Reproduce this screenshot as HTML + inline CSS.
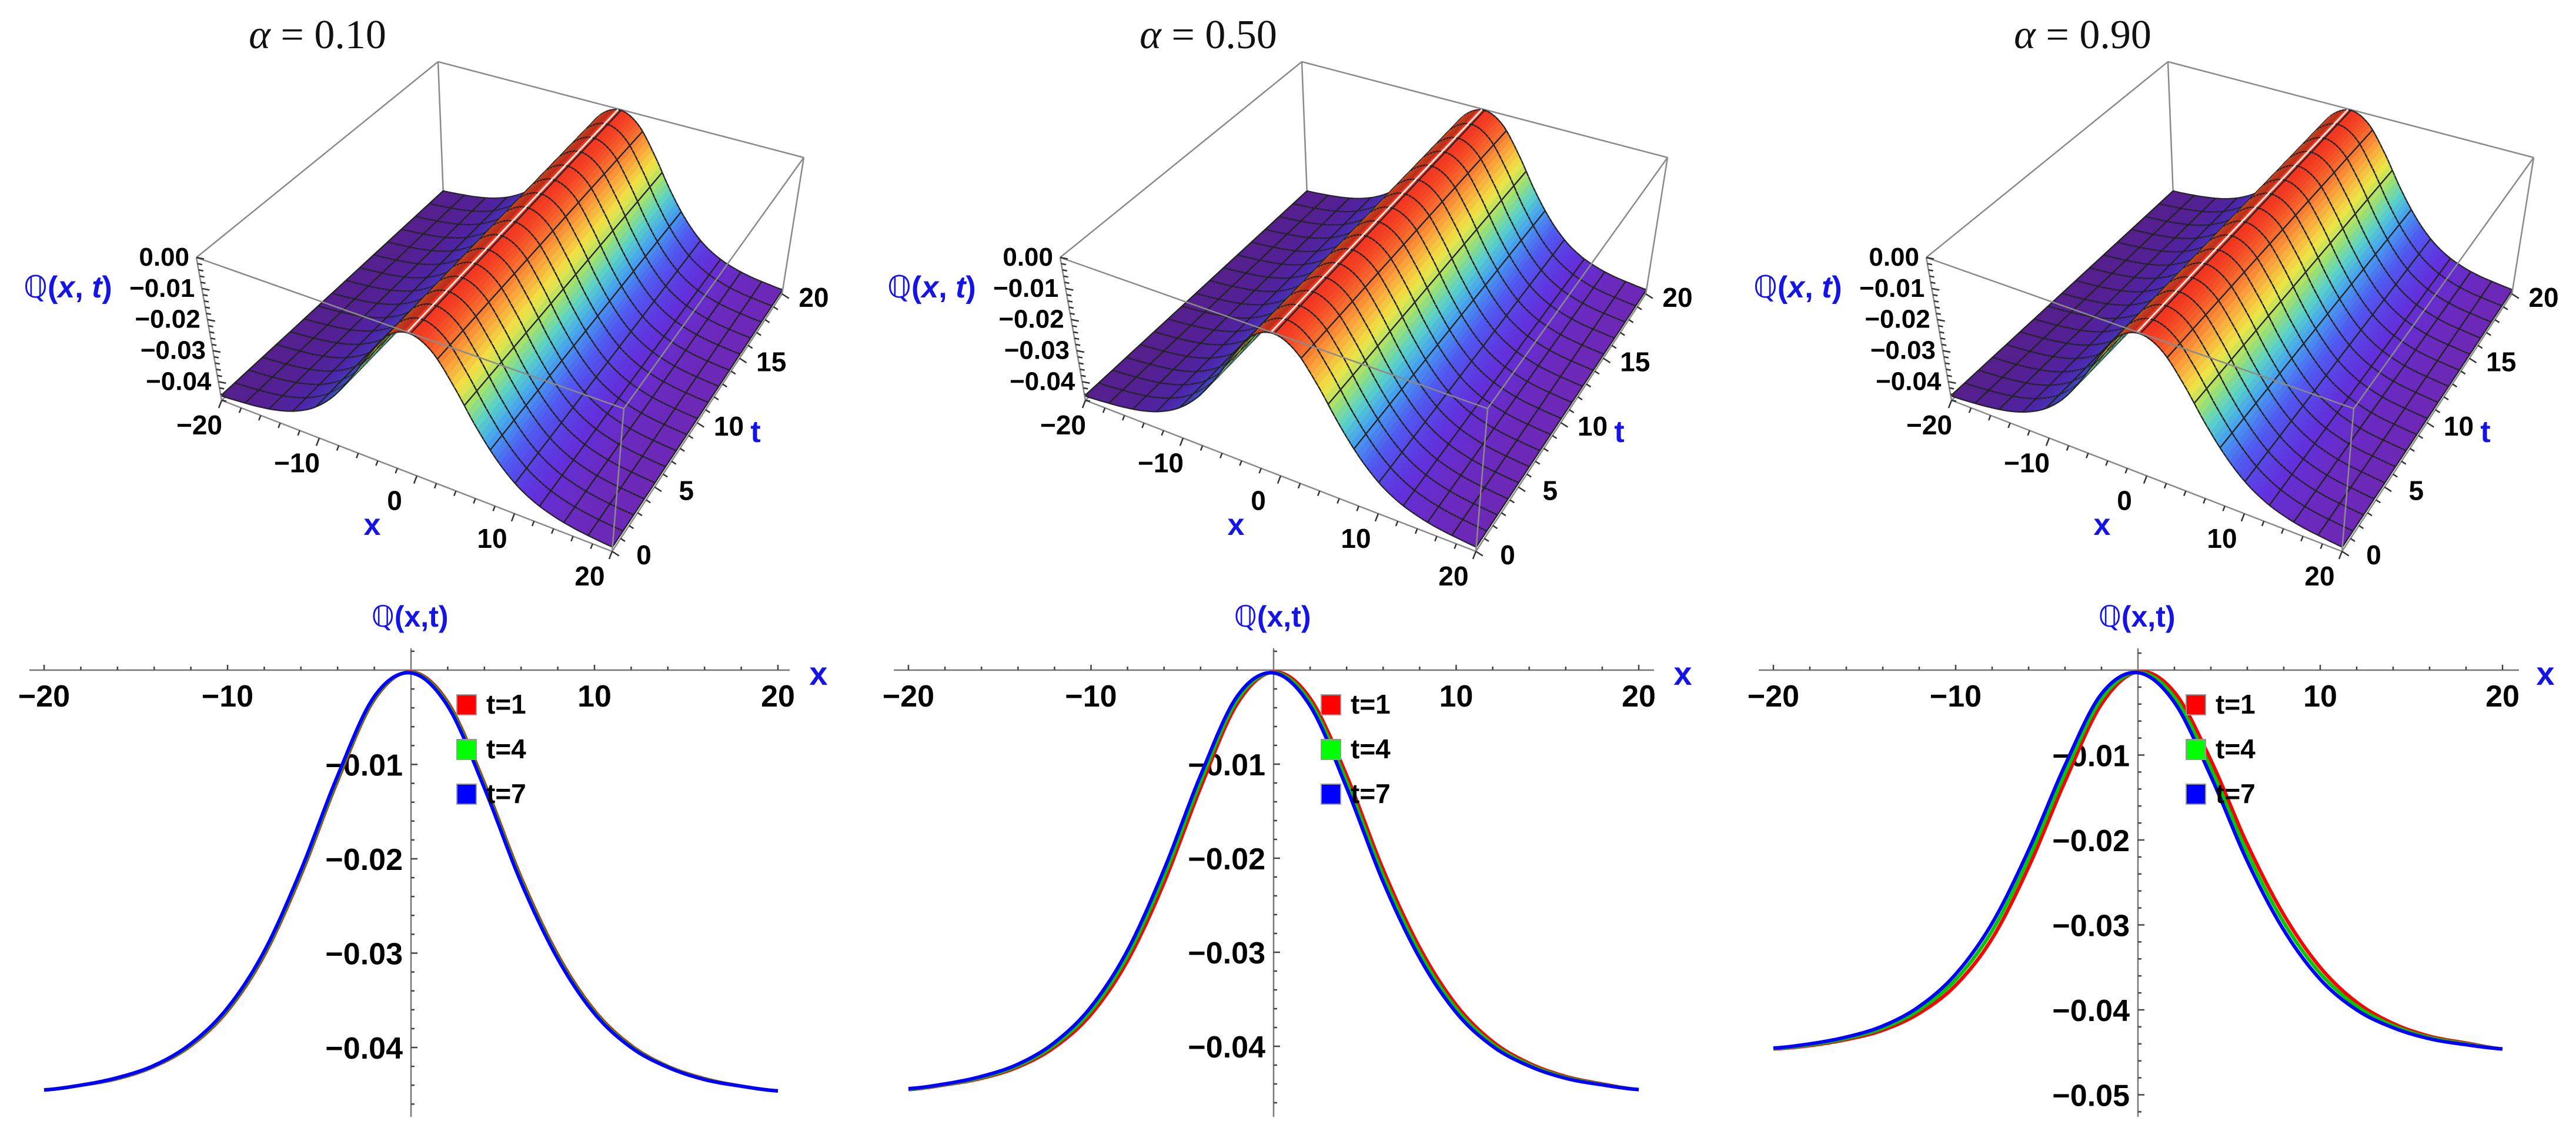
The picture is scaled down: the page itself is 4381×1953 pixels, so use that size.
<!DOCTYPE html>
<html><head><meta charset="utf-8"><title>Q(x,t) for alpha values</title>
<style>
html,body{margin:0;padding:0;background:#fff;}
svg{display:block;}
.tl{font-family:"Liberation Sans",sans-serif;font-weight:bold;fill:#000;}
.bl{font-family:"Liberation Sans","DejaVu Sans",sans-serif;font-weight:bold;fill:#1414e6;}
.ttl{font-family:"Liberation Serif",serif;fill:#111;font-size:70px;}
</style></head>
<body>
<svg id="chart" width="4381" height="1953" viewBox="0 0 4381 1953" xmlns="http://www.w3.org/2000/svg">
<rect x="0" y="0" width="4381" height="1953" fill="#fff"/>
<g id="layer3d"></g>
<g id="layer2d"></g>
<g>
<text class="ttl" x="540" y="82" text-anchor="middle"><tspan font-style="italic">α</tspan> = 0.10</text>
<text class="ttl" x="2055" y="82" text-anchor="middle"><tspan font-style="italic">α</tspan> = 0.50</text>
<text class="ttl" x="3542" y="82" text-anchor="middle"><tspan font-style="italic">α</tspan> = 0.90</text>
</g>
<g>
<text class="bl" x="40" y="506" font-size="52"><tspan font-weight="normal">ℚ</tspan>(<tspan font-style="italic">x</tspan>, <tspan font-style="italic">t</tspan>)</text>
<text class="bl" x="633" y="910" font-size="52" text-anchor="middle">x</text>
<text class="bl" x="1285" y="752" font-size="52" text-anchor="middle">t</text>
<text class="bl" x="1509" y="506" font-size="52"><tspan font-weight="normal">ℚ</tspan>(<tspan font-style="italic">x</tspan>, <tspan font-style="italic">t</tspan>)</text>
<text class="bl" x="2102" y="910" font-size="52" text-anchor="middle">x</text>
<text class="bl" x="2754" y="752" font-size="52" text-anchor="middle">t</text>
<text class="bl" x="2982" y="506" font-size="52"><tspan font-weight="normal">ℚ</tspan>(<tspan font-style="italic">x</tspan>, <tspan font-style="italic">t</tspan>)</text>
<text class="bl" x="3575" y="910" font-size="52" text-anchor="middle">x</text>
<text class="bl" x="4227" y="752" font-size="52" text-anchor="middle">t</text>
</g>
<g>
<text class="bl" x="697" y="1066" font-size="50" text-anchor="middle"><tspan font-weight="normal">ℚ</tspan>(x,t)</text>
<text class="bl" x="1392" y="1165" font-size="56" text-anchor="middle">x</text>
<text class="bl" x="2164" y="1066" font-size="50" text-anchor="middle"><tspan font-weight="normal">ℚ</tspan>(x,t)</text>
<text class="bl" x="2862" y="1165" font-size="56" text-anchor="middle">x</text>
<text class="bl" x="3634" y="1066" font-size="50" text-anchor="middle"><tspan font-weight="normal">ℚ</tspan>(x,t)</text>
<text class="bl" x="4329" y="1165" font-size="56" text-anchor="middle">x</text>
</g>
<g>
<g>
<rect x="777" y="1182" width="33" height="34" fill="#ff0000" stroke="#999" stroke-width="2"/>
<text class="tl" x="827" y="1214" font-size="46">t=1</text>
<rect x="777" y="1258" width="33" height="34" fill="#00ff00" stroke="#999" stroke-width="2"/>
<text class="tl" x="827" y="1290" font-size="46">t=4</text>
<rect x="777" y="1334" width="33" height="34" fill="#0000ff" stroke="#999" stroke-width="2"/>
<text class="tl" x="827" y="1366" font-size="46">t=7</text>
</g>
<g>
<rect x="2247" y="1182" width="33" height="34" fill="#ff0000" stroke="#999" stroke-width="2"/>
<text class="tl" x="2297" y="1214" font-size="46">t=1</text>
<rect x="2247" y="1258" width="33" height="34" fill="#00ff00" stroke="#999" stroke-width="2"/>
<text class="tl" x="2297" y="1290" font-size="46">t=4</text>
<rect x="2247" y="1334" width="33" height="34" fill="#0000ff" stroke="#999" stroke-width="2"/>
<text class="tl" x="2297" y="1366" font-size="46">t=7</text>
</g>
<g>
<rect x="3718" y="1182" width="33" height="34" fill="#ff0000" stroke="#999" stroke-width="2"/>
<text class="tl" x="3768" y="1214" font-size="46">t=1</text>
<rect x="3718" y="1258" width="33" height="34" fill="#00ff00" stroke="#999" stroke-width="2"/>
<text class="tl" x="3768" y="1290" font-size="46">t=4</text>
<rect x="3718" y="1334" width="33" height="34" fill="#0000ff" stroke="#999" stroke-width="2"/>
<text class="tl" x="3768" y="1366" font-size="46">t=7</text>
</g>
</g>
</svg>
<script>
// ---- data ----
const xs = [-20,-18,-16,-14,-12,-10,-8,-6,-4,-2,0,2,4,6,8,10,12,14,16,18,20];
const a1_t1 = [-0.0445,-0.0440,-0.0433,-0.0420,-0.0398,-0.0361,-0.0302,-0.0217,-0.0117,-0.0031,-0.0002,-0.0034,-0.0120,-0.0220,-0.0302,-0.0361,-0.0398,-0.0420,-0.0433,-0.0441,-0.0446];
const a1_t4 = [-0.0445,-0.0440,-0.04325,-0.04195,-0.0397,-0.03595,-0.0300,-0.02145,-0.01145,-0.00295,-0.00025,-0.0036,-0.01225,-0.02225,-0.0304,-0.03625,-0.0399,-0.04205,-0.04335,-0.0441,-0.0446];
const a1_t7 = [-0.0445,-0.0440,-0.0432,-0.0419,-0.0396,-0.0358,-0.0298,-0.0212,-0.0112,-0.0028,-0.0003,-0.0038,-0.0125,-0.0225,-0.0306,-0.0364,-0.0400,-0.0421,-0.0434,-0.0441,-0.0446];
const a5_t1 = [-0.0446,-0.0441,-0.0434,-0.0422,-0.0401,-0.0366,-0.0309,-0.0226,-0.0125,-0.0036,-0.0002,-0.0030,-0.0112,-0.0212,-0.0295,-0.0356,-0.0395,-0.0418,-0.0432,-0.0440,-0.0446];
const a5_t4 = [-0.04455,-0.04405,-0.0433,-0.04205,-0.03985,-0.0362,-0.03035,-0.0219,-0.01185,-0.0032,-0.00025,-0.0034,-0.01185,-0.02185,-0.03005,-0.0360,-0.03975,-0.04195,-0.0433,-0.04405,-0.0446];
const a5_t7 = [-0.0445,-0.0440,-0.0432,-0.0419,-0.0396,-0.0358,-0.0298,-0.0212,-0.0112,-0.0028,-0.0003,-0.0038,-0.0125,-0.0225,-0.0306,-0.0364,-0.0400,-0.0421,-0.0434,-0.0441,-0.0446];
const a9_t1 = [-0.0446,-0.0442,-0.0435,-0.0424,-0.0404,-0.0371,-0.0316,-0.0232,-0.0131,-0.0040,-0.0002,-0.0026,-0.0106,-0.0205,-0.0288,-0.0350,-0.0391,-0.0416,-0.0431,-0.0439,-0.0446];
const a9_t4 = [-0.04455,-0.0441,-0.04335,-0.04215,-0.0400,-0.03645,-0.0307,-0.0222,-0.01215,-0.0034,-0.00025,-0.0032,-0.01155,-0.0215,-0.0297,-0.0357,-0.03955,-0.04185,-0.04325,-0.0440,-0.0446];
const a9_t7 = [-0.0445,-0.0440,-0.0432,-0.0419,-0.0396,-0.0358,-0.0298,-0.0212,-0.0112,-0.0028,-0.0003,-0.0038,-0.0125,-0.0225,-0.0306,-0.0364,-0.0400,-0.0421,-0.0434,-0.0441,-0.0446];
const xTickLabels = [-20,-10,10,20];
const yTickLabels12 = [-0.01,-0.02,-0.03,-0.04];
const yTickLabels3 = [-0.01,-0.02,-0.03,-0.04,-0.05];
const box3dX = [-20,-10,0,10,20];
const box3dT = [0,5,10,15,20];
const box3dZ = [0,-0.01,-0.02,-0.03,-0.04];
const seriesColors = ['#ff0000','#00c800','#0000ff'];

const NS = 'http://www.w3.org/2000/svg';
function mk(tag, attrs, name, parent){
  const el = document.createElementNS(NS, tag);
  for (const k in attrs) el.setAttribute(k, attrs[k]);
  
  
  parent.appendChild(el);
  return el;
}
function interp(arr, x){
  const n = xs.length, h = xs[1]-xs[0];
  let i = Math.floor((x-xs[0])/h);
  if (i < 0) i = 0; if (i > n-2) i = n-2;
  const s = (x-xs[i])/h;
  const p0 = arr[Math.max(i-1,0)], p1 = arr[i], p2 = arr[i+1], p3 = arr[Math.min(i+2,n-1)];
  return 0.5*((2*p1)+(-p0+p2)*s+(2*p0-5*p1+4*p2-p3)*s*s+(-p0+3*p1-3*p2+p3)*s*s*s);
}
function fmt(v){ return (v<0?'−':'')+Math.abs(v).toFixed(2); }

// ---------- 2D line panels ----------
const panels2d = [
  {x0:699, xs:31.2, y0:1140, ys:16050, yb:1900, ax0:50, ax1:1343, series:[a1_t1,a1_t4,a1_t7], yt:yTickLabels12, ymin:-0.0475},
  {x0:2166, xs:31.05, y0:1140, ys:16000, yb:1900, ax0:1520, ax1:2813, series:[a5_t1,a5_t4,a5_t7], yt:yTickLabels12, ymin:-0.0475},
  {x0:3636, xs:31.0, y0:1140, ys:14450, yb:1900, ax0:2991, ax1:4284, series:[a9_t1,a9_t4,a9_t7], yt:yTickLabels3, ymin:-0.0525}
];
const L2 = document.getElementById('layer2d');
panels2d.forEach((p, pi) => {
  const g = mk('g', {}, 'line-panel-'+(pi+1), L2);
  const X = v => p.x0 + v*p.xs;
  const Y = v => p.y0 - v*p.ys;
  mk('line', {x1:p.ax0, y1:p.y0, x2:p.ax1, y2:p.y0, stroke:'#777', 'stroke-width':2.5}, 'x-axis-line', g);
  mk('line', {x1:p.x0, y1:1103, x2:p.x0, y2:p.yb, stroke:'#777', 'stroke-width':2.5}, 'y-axis-line', g);
  for (let v=-20; v<=20; v+=2){
    if (v===0) continue;
    const major = v%10===0;
    mk('line', {x1:X(v), y1:p.y0, x2:X(v), y2:p.y0-(major?9:6), stroke:'#444', 'stroke-width':2.5}, 'x-tick', g);
  }
  for (let k=1; k*0.002 <= -p.ymin+0.0001; k++){
    const v = -k*0.002, major = k%5===0;
    mk('line', {x1:p.x0, y1:Y(v), x2:p.x0+(major?11:6), y2:Y(v), stroke:'#444', 'stroke-width':2.5}, 'y-tick', g);
  }
  mk('line', {x1:p.x0, y1:Y(0.002), x2:p.x0+6, y2:Y(0.002), stroke:'#444', 'stroke-width':2.5}, 'y-tick', g);
  xTickLabels.forEach(v => {
    const t = mk('text', {x:X(v), y:p.y0+62, 'text-anchor':'middle', class:'tl', 'font-size':52}, 'x-tick-label', g);
    t.textContent = (v<0?'−':'')+Math.abs(v);
  });
  p.yt.forEach(v => {
    const t = mk('text', {x:p.x0-14, y:Y(v)+19, 'text-anchor':'end', class:'tl', 'font-size':52}, 'y-tick-label', g);
    t.textContent = fmt(v);
  });
  const names = ['series-t1','series-t4','series-t7'];
  p.series.forEach((arr, si) => {
    let d = '';
    for (let x=-20; x<=20.0001; x+=0.1){
      d += (d?'L':'M') + X(x).toFixed(1) + ',' + Y(interp(arr,x)).toFixed(1);
    }
    mk('path', {d:d, fill:'none', stroke:seriesColors[si], 'stroke-width':6, 'stroke-linejoin':'round'}, names[si], g);
  });
});

// ---------- 3D surface panels ----------
const zmin = -0.046;
const baseCorners = {
  A:[377,681], B:[1041,938], C:[1330,500], D:[754,332],
  A2:[334,438], B2:[1061,695], C2:[1367,268], D2:[745,105]
};
const panels3d = [
  {ox:0, prof:a1_t4},
  {ox:1469, prof:a5_t4},
  {ox:2942, prof:a9_t4}
];
const stops = [[0,[112,38,170]],[0.14,[98,48,220]],[0.28,[80,90,240]],[0.4,[70,160,240]],[0.5,[90,210,200]],[0.6,[160,225,110]],[0.7,[240,228,70]],[0.82,[250,160,60]],[1,[242,50,32]]];
function colorAt(f, dark){
  f = Math.max(0, Math.min(1, f));
  let i = 0; while (i < stops.length-2 && f > stops[i+1][0]) i++;
  const a = stops[i], b = stops[i+1], s = (f-a[0])/(b[0]-a[0]);
  const c = a[1].map((v,k) => Math.round((v+(b[1][k]-v)*s)*dark));
  return 'rgb('+c[0]+','+c[1]+','+c[2]+')';
}
const L3 = document.getElementById('layer3d');
panels3d.forEach((p, pi) => {
  const g = mk('g', {}, 'surface-panel-'+(pi+1), L3);
  const c = {};
  for (const k in baseCorners) c[k] = [baseCorners[k][0]+p.ox, baseCorners[k][1]];
  function bil(P00,P10,P11,P01,u,v){
    return [
      P00[0]*(1-u)*(1-v)+P10[0]*u*(1-v)+P11[0]*u*v+P01[0]*(1-u)*v,
      P00[1]*(1-u)*(1-v)+P10[1]*u*(1-v)+P11[1]*u*v+P01[1]*(1-u)*v
    ];
  }
  function P(x,t,z){
    const u=(x+20)/40, v=t/20, w=(z-zmin)/(0-zmin);
    const b = bil(c.A,c.B,c.C,c.D,u,v), tp = bil(c.A2,c.B2,c.C2,c.D2,u,v);
    return [b[0]+(tp[0]-b[0])*w, b[1]+(tp[1]-b[1])*w];
  }
  const pt = q => q[0].toFixed(1)+','+q[1].toFixed(1);
  const line = (a,b,name,w,col) => mk('line',{x1:a[0],y1:a[1],x2:b[0],y2:b[1],stroke:col||'#8a8a8a','stroke-width':w||2.5},name,g);
  line(c.A2,c.D2,'box-edge-back'); line(c.D2,c.C2,'box-edge-back'); line(c.D,c.D2,'box-edge-back');
  line(c.A,c.D,'box-edge-back'); line(c.D,c.C,'box-edge-back');
  const NX = 128, NT = 16, MX = 8;
  const zf = x => interp(p.prof, x);
  for (let i=0; i<NX; i++){
    const x0 = -20 + 40*i/NX, x1 = -20 + 40*(i+1)/NX;
    const z0 = zf(x0), z1 = zf(x1), zm = zf((x0+x1)/2);
    const dark = ((x0+x1)/2 < -0.6) ? 0.78 : 1;
    const col = colorAt((zm-zmin)/(0-zmin), dark);
    for (let j=NT-1; j>=0; j--){
      const t0 = 20*j/NT, t1 = 20*(j+1)/NT;
      const q00=P(x0,t0,z0), q10=P(x1,t0,z1), q11=P(x1,t1,z1), q01=P(x0,t1,z0);
      mk('polygon',{points:pt(q00)+' '+pt(q10)+' '+pt(q11)+' '+pt(q01), fill:col, stroke:col, 'stroke-width':1.2},'surface-patch',g);
      let d = 'M'+pt(q00)+'L'+pt(q10)+'M'+pt(q01)+'L'+pt(q11);
      if (i%MX===0) d += 'M'+pt(q00)+'L'+pt(q01);
      if (i===NX-1) d += 'M'+pt(q10)+'L'+pt(q11);
      mk('path',{d:d, fill:'none', stroke:'#222', 'stroke-width':2.3},'mesh-line',g);
    }
  }
  line(P(-0.3,0,-0.0002), P(-0.3,20,-0.0002), 'ridge-highlight', 3, '#ffe8e0');
  line(c.A2,c.B2,'box-edge-front'); line(c.B2,c.C2,'box-edge-front'); line(c.A,c.A2,'z-axis-line');
  line(c.B,c.B2,'box-edge-front'); line(c.C,c.C2,'box-edge-front');
  line(c.A,c.B,'x-axis-line-3d'); line(c.B,c.C,'t-axis-line-3d');
  for (let v=-20; v<=20; v+=2){
    const a = P(v,0,zmin), L = (v%10===0)?14:9;
    line(a,[a[0]-0.36*L,a[1]+0.93*L],'x-tick-3d',2.5,'#333');
  }
  for (let v=0; v<=20; v+=1){
    const a = P(20,v,zmin), L = (v%5===0)?14:9;
    line(a,[a[0]+0.84*L,a[1]+0.54*L],'t-tick-3d',2.5,'#333');
  }
  for (let k=0; k<=23; k++){
    const a = P(-20,0,-k*0.002), L = (k%5===0)?13:8;
    line(a,[a[0]+L,a[1]+0.2*L],'z-tick-3d',2.5,'#333');
  }
  box3dX.forEach(v => {
    const a = P(v,0,zmin);
    const t = mk('text',{x:a[0]-38,y:a[1]+58,'text-anchor':'middle',class:'tl','font-size':46},'x-tick-label-3d',g);
    t.textContent = (v<0?'−':'')+Math.abs(v);
  });
  box3dT.forEach(v => {
    const a = P(20,v,zmin);
    const t = mk('text',{x:a[0]+54,y:a[1]+22,'text-anchor':'middle',class:'tl','font-size':46},'t-tick-label-3d',g);
    t.textContent = String(v);
  });
  box3dZ.forEach(v => {
    const a = P(-20,0,v);
    const t = mk('text',{x:a[0]-12,y:a[1]+14,'text-anchor':'end',class:'tl','font-size':44},'z-tick-label-3d',g);
    t.textContent = fmt(v);
  });
});
</script>
</body></html>
